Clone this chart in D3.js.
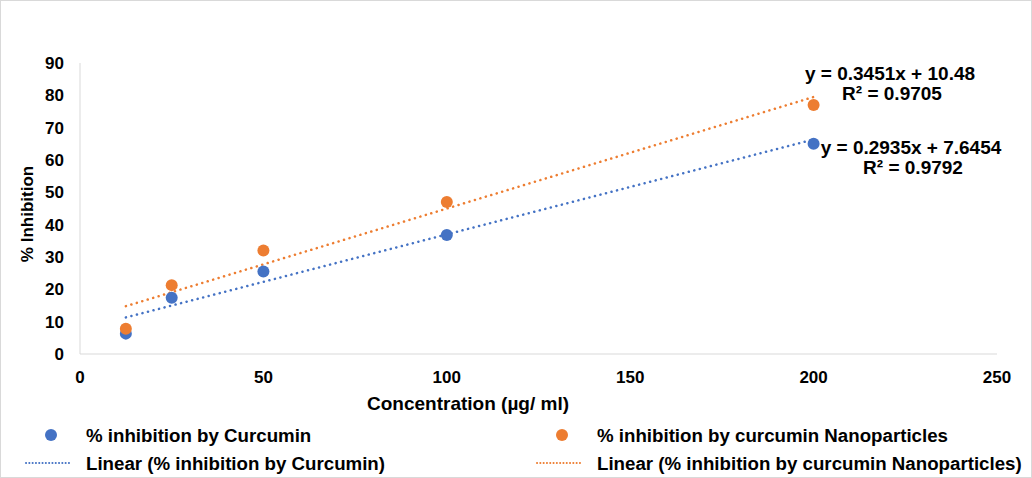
<!DOCTYPE html>
<html>
<head>
<meta charset="utf-8">
<script src="https://cdn.jsdelivr.net/npm/d3@7"></script>
<style>
  body { margin: 0; background: #fff; }
  text { font-family: "Liberation Sans", Arial, sans-serif; font-weight: bold; fill: #000; }
</style>
</head>
<body>
<script>
// chart data
var concentrations = [12.5, 25, 50, 100, 200];
var curcumin = [6.3, 17.4, 25.5, 36.8, 65];
var nanoparticles = [7.8, 21.3, 32, 47, 77];
var xTicks = [0, 50, 100, 150, 200, 250];
var yTicks = [0, 10, 20, 30, 40, 50, 60, 70, 80, 90];
var fitCurcumin = {slope: 0.2935, intercept: 7.6454, r2: "0.9792"};
var fitNano = {slope: 0.3451, intercept: 10.48, r2: "0.9705"};

var width = 1032, height = 478;
var blue = "#4472c4", orange = "#ed7d31";

var svg = d3.select("body").append("svg")
    .attr("width", width)
    .attr("height", height);

// outer border
svg.append("rect")
    .attr("x", 0.5).attr("y", 0.5)
    .attr("width", width - 1).attr("height", height - 1)
    .attr("fill", "#fff").attr("stroke", "#d9d9d9");

var x = d3.scaleLinear().domain([0, 250]).range([80, 997]);
var y = d3.scaleLinear().domain([0, 90]).range([354, 63]);

// axis lines
svg.append("line")
    .attr("x1", x(0)).attr("x2", x(0))
    .attr("y1", y(0)).attr("y2", y(90))
    .attr("stroke", "#d9d9d9");
svg.append("line")
    .attr("x1", x(0)).attr("x2", x(250))
    .attr("y1", y(0)).attr("y2", y(0))
    .attr("stroke", "#d9d9d9");

// tick labels
svg.selectAll(".ytick")
    .data(yTicks)
    .enter().append("text")
    .attr("class", "ytick")
    .attr("x", 64)
    .attr("y", function(d){ return y(d); })
    .attr("dy", "0.35em")
    .attr("text-anchor", "end")
    .style("font-size", "17px")
    .text(function(d){ return d; });

svg.selectAll(".xtick")
    .data(xTicks)
    .enter().append("text")
    .attr("class", "xtick")
    .attr("x", function(d){ return x(d); })
    .attr("y", 383)
    .attr("text-anchor", "middle")
    .style("font-size", "17px")
    .text(function(d){ return d; });

// axis titles
svg.append("text")
    .attr("transform", "translate(33,214) rotate(-90)")
    .attr("text-anchor", "middle")
    .style("font-size", "17px")
    .text("% Inhibition");

svg.append("text")
    .attr("x", 468)
    .attr("y", 410)
    .attr("text-anchor", "middle")
    .style("font-size", "19px")
    .text("Concentration (µg/ ml)");

// trendlines
function trend(fit, color){
    var xs = [d3.min(concentrations), d3.max(concentrations)];
    svg.append("line")
        .attr("x1", x(xs[0])).attr("y1", y(fit.slope * xs[0] + fit.intercept))
        .attr("x2", x(xs[1])).attr("y2", y(fit.slope * xs[1] + fit.intercept))
        .attr("stroke", color)
        .attr("stroke-width", 2.5)
        .attr("stroke-linecap", "round")
        .attr("stroke-dasharray", "0.1,5.6");
}
trend(fitCurcumin, blue);
trend(fitNano, orange);

// points
function points(values, color){
    svg.append("g").selectAll("circle")
        .data(values)
        .enter().append("circle")
        .attr("cx", function(d, i){ return x(concentrations[i]); })
        .attr("cy", function(d){ return y(d); })
        .attr("r", 6)
        .attr("fill", color);
}
points(curcumin, blue);
points(nanoparticles, orange);

// equations
function equation(fit, cx, cy){
    var t = svg.append("text")
        .attr("text-anchor", "middle")
        .style("font-size", "19px");
    t.append("tspan").attr("x", cx).attr("y", cy)
        .text("y = " + fit.slope + "x + " + fit.intercept);
    t.append("tspan").attr("x", cx + 2).attr("y", cy + 20)
        .text("R² = " + fit.r2);
}
equation(fitNano, 890, 80);
equation(fitCurcumin, 911, 154);

// legend
var legend = [
    {label: "% inhibition by Curcumin", color: blue, type: "dot", x: 51, y: 435},
    {label: "% inhibition by curcumin Nanoparticles", color: orange, type: "dot", x: 562, y: 435},
    {label: "Linear (% inhibition by Curcumin)", color: blue, type: "line", x: 51, y: 463},
    {label: "Linear (% inhibition by curcumin Nanoparticles)", color: orange, type: "line", x: 562, y: 463}
];
var lg = svg.selectAll(".legend")
    .data(legend)
    .enter().append("g")
    .attr("class", "legend")
    .attr("transform", function(d){ return "translate(" + d.x + "," + d.y + ")"; });
lg.filter(function(d){ return d.type == "dot"; })
    .append("circle")
    .attr("r", 6)
    .attr("fill", function(d){ return d.color; });
lg.filter(function(d){ return d.type == "line"; })
    .append("line")
    .attr("x1", -25).attr("x2", 21)
    .attr("stroke", function(d){ return d.color; })
    .attr("stroke-width", 2)
    .attr("stroke-linecap", "round")
    .attr("stroke-dasharray", "0.1,3.2");
lg.append("text")
    .attr("x", 35)
    .attr("dy", "0.35em")
    .style("font-size", "18.7px")
    .text(function(d){ return d.label; });
</script>
</body>
</html>
